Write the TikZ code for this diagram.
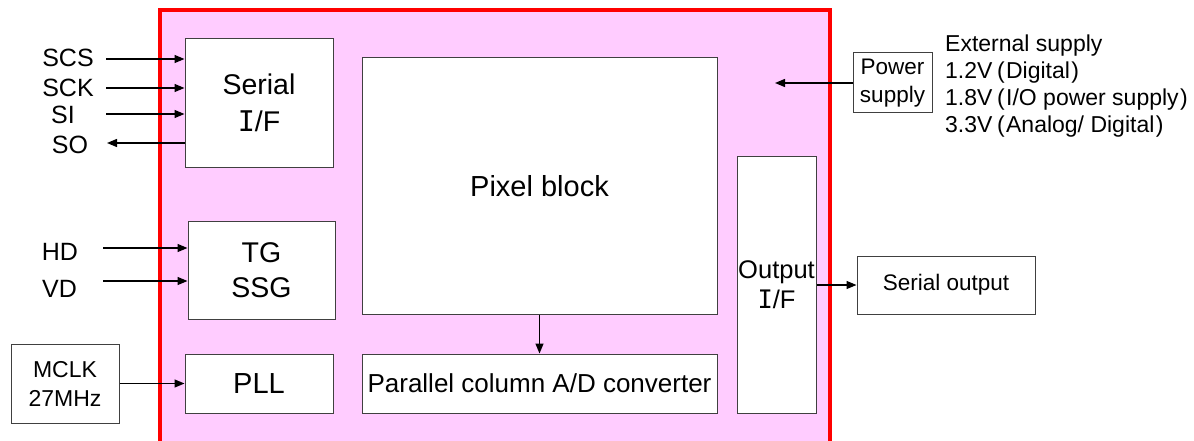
\documentclass[tikz,border=0pt]{standalone}
\usepackage{fontspec}
\setmainfont{Liberation Sans}
\newfontfamily\serIfont{DejaVu Sans Mono}
\usetikzlibrary{arrows.meta}
\definecolor{chipfill}{HTML}{FFCCFF}
\definecolor{chipred}{HTML}{FF0000}
\definecolor{boxline}{HTML}{404040}
\newcommand{\myI}{{\serIfont I}}
\newcommand{\mylp}{\hspace{0.2em}(\hspace{0.06em}}
\newcommand{\myrp}{\hspace{0.06em})}
\begin{document}
\begin{tikzpicture}[x=1pt,y=-1pt,
  blk/.style={draw=boxline, line width=1pt, fill=white, inner sep=0pt, align=center},
  arr/.style={line width=1.3pt, -{Triangle[length=10pt,width=8pt]}},
  lbl/.style={inner sep=0pt, font=\fontsize{25}{29}\selectfont}
]
\useasboundingbox (0,0) rectangle (1194,441);
\clip (0,0) rectangle (1194,441);
\fill[white] (0,0) rectangle (1194,441);
% chip outline
\draw[chipred, line width=4pt, fill=chipfill] (160,10) rectangle (830,442.5);
% blocks
\node[blk, minimum width=148pt, minimum height=128pt, font=\fontsize{28.5}{37}\selectfont] (serial) at (259,103) {Serial\\\myI/F};
\node[blk, minimum width=355pt, minimum height=256pt, font=\fontsize{29}{35}\selectfont] (pixel) at (539.5,186) {Pixel block};
\node[blk, minimum width=79pt, minimum height=256pt, font=\fontsize{25.5}{30}\selectfont] (outif) at (776.5,285) {Output\\\myI/F};
\node[blk, minimum width=147pt, minimum height=98pt, font=\fontsize{28.5}{35}\selectfont] (tg) at (261.5,270) {TG\\SSG};
\node[blk, minimum width=148pt, minimum height=59pt, font=\fontsize{29}{35}\selectfont] (pll) at (259,383.5) {PLL};
\node[blk, minimum width=355pt, minimum height=59pt, font=\fontsize{26}{31}\selectfont] (adc) at (539.5,383.5) {Parallel column A/D converter};
\node[blk, minimum width=108pt, minimum height=79pt, font=\fontsize{23}{29}\selectfont] (mclk) at (65,383.5) {MCLK\\27MHz};
\node[blk, minimum width=79pt, minimum height=60pt, font=\fontsize{22.5}{28}\selectfont] (power) at (892.5,83) {Power\\supply};
\node[blk, minimum width=178pt, minimum height=58pt, font=\fontsize{22.5}{27}\selectfont] (serout) at (946,285) {Serial output};
% external supply text
\node[inner sep=0pt, anchor=west, align=left, font=\fontsize{23}{27}\selectfont] (ext) at (945,86.5)
  {External supply\\1.2V\mylp Digital\myrp\\1.8V\mylp I/O power supply\myrp\\3.3V\mylp Analog/ Digital\myrp};
% signal labels
\node[lbl] (scs) at (68,57.5) {SCS};
\node[lbl] (sck) at (68,87.5) {SCK};
\node[lbl] (si) at (63,115) {SI};
\node[lbl] (so) at (70,145) {SO};
\node[lbl] (hd) at (60,252) {HD};
\node[lbl] (vd) at (59.5,289) {VD};
% arrow free ends
\coordinate (scsT) at (106,59);
\coordinate (sckT) at (106,88);
\coordinate (siT) at (106,114);
\coordinate (soT) at (107,143);
\coordinate (hdT) at (103,248);
\coordinate (vdT) at (103,281);
\coordinate (pwrT) at (775,83);
% connectors
\draw[arr] (scsT) -- (scsT -| serial.west);
\draw[arr] (sckT) -- (sckT -| serial.west);
\draw[arr] (siT) -- (siT -| serial.west);
\draw[arr] (soT -| serial.west) -- (soT);
\draw[arr] (hdT) -- (hdT -| tg.west);
\draw[arr] (vdT) -- (vdT -| tg.west);
\draw[arr] (mclk.east) -- (pll.west);
\draw[arr] (pixel.south) -- (adc.north);
\draw[arr] (outif.east) -- (serout.west);
\draw[arr] (power.west) -- (pwrT);
\end{tikzpicture}
\end{document}
